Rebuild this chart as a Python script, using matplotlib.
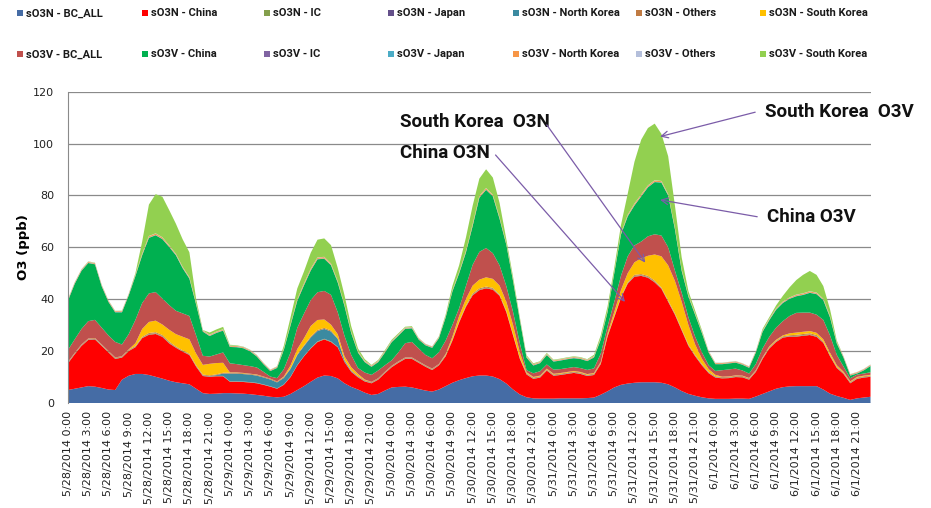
import numpy as np
import matplotlib.pyplot as plt
from matplotlib.patches import Rectangle

# categories: hourly time stamps, 5/28/2014 0:00 .. 6/1/2014 23:00
days = ['5/28/2014', '5/29/2014', '5/30/2014', '5/31/2014', '6/1/2014']
hour_labels = [f'{d} {h}:00' for d in days for h in range(24)]
hours = np.arange(len(hour_labels))

series_names = ['sO3N - BC_ALL', 'sO3N - China', 'sO3N - IC', 'sO3N - Japan',
                'sO3N - North Korea', 'sO3N - Others', 'sO3N - South Korea',
                'sO3V - BC_ALL', 'sO3V - China', 'sO3V - IC', 'sO3V - Japan',
                'sO3V - North Korea', 'sO3V - Others', 'sO3V - South Korea']
colors = ['#456ca5', '#ff0000', '#849f4c', '#64508a', '#3b8aa0', '#c07b43', '#ffc000',
          '#c0504d', '#00b050', '#8064a2', '#4bacc6', '#f79646', '#b4bfdb', '#92d050']

# ppb, one value per hour
o3n_bc_all = [5.0, 5.5, 6.0, 6.5, 6.3, 5.8, 5.2, 5.0, 9.0, 10.5, 11.2, 11.2, 10.8, 10.1, 9.4, 8.6, 8.0, 7.6, 7.2, 5.5, 3.8, 3.5, 3.6, 3.8,
              3.8, 3.7, 3.6, 3.4, 3.1, 2.8, 2.4, 2.2, 2.4, 3.5, 5.0, 6.5, 8.2, 9.8, 10.6, 10.4, 9.5, 7.6, 6.2, 5.2, 4.0, 3.1, 3.5, 4.8,
              6.0, 6.2, 6.3, 6.0, 5.4, 4.8, 4.4, 5.2, 6.5, 7.8, 8.8, 9.6, 10.3, 10.6, 10.6, 10.2, 9.2, 7.5, 5.2, 3.3, 2.2, 1.8, 1.7, 1.7,
              1.7, 1.8, 1.8, 1.8, 1.8, 1.9, 2.1, 3.2, 4.5, 6.0, 7.0, 7.5, 7.8, 8.0, 8.0, 8.0, 7.8, 7.2, 6.0, 4.6, 3.5, 2.8, 2.2, 1.8,
              1.6, 1.6, 1.6, 1.7, 1.7, 1.6, 2.5, 3.5, 4.5, 5.5, 6.1, 6.4, 6.5, 6.5, 6.5, 6.5, 5.2, 3.6, 2.7, 2.0, 1.2, 1.8, 2.1, 2.4]
o3n_china = [10.3, 13.3, 16.0, 17.8, 18.2, 16.2, 14.3, 12.0, 8.5, 9.5, 10.3, 13.8, 15.5, 16.5, 16.1, 14.4, 13.3, 12.2, 11.3, 8.5, 6.6, 6.6, 6.7, 6.5,
             4.4, 4.5, 4.5, 4.5, 4.5, 4.2, 3.9, 3.3, 4.6, 6.5, 9.5, 11.5, 12.8, 13.7, 13.9, 13.1, 12.0, 8.2, 5.8, 4.7, 4.3, 4.5, 5.5, 6.7,
             7.8, 9.3, 10.7, 11.0, 10.1, 9.2, 8.3, 9.3, 11.5, 16.2, 22.2, 27.4, 31.2, 32.9, 33.6, 33.5, 32.1, 27.5, 20.8, 13.7, 8.8, 7.5, 8.1, 10.8,
             8.8, 9.0, 9.4, 9.8, 9.4, 8.5, 8.7, 11.8, 21.0, 27.0, 33.5, 38.5, 40.9, 41.0, 40.3, 38.5, 36.2, 31.8, 28.0, 23.4, 18.5, 15.2, 12.3, 9.7,
             8.2, 7.9, 8.0, 8.3, 8.2, 7.4, 9.5, 13.5, 16.5, 18.0, 19.1, 19.2, 19.1, 19.4, 19.7, 19.0, 18.0, 14.4, 10.8, 9.2, 6.4, 7.5, 7.7, 7.7]
o3n_ic = [0.1, 0.1, 0.1, 0.1, 0.1, 0.1, 0.1, 0.1, 0.1, 0.1, 0.1, 0.1, 0.2, 0.2, 0.2, 0.2, 0.1, 0.1, 0.1, 0.1, 0.1, 0.1, 0.1, 0.1,
          0.1, 0.1, 0.1, 0.1, 0.1, 0.1, 0.1, 0.1, 0.1, 0.1, 0.1, 0.1, 0.2, 0.2, 0.2, 0.2, 0.1, 0.1, 0.1, 0.1, 0.1, 0.1, 0.1, 0.1,
          0.1, 0.1, 0.1, 0.1, 0.1, 0.1, 0.1, 0.1, 0.1, 0.1, 0.1, 0.1, 0.2, 0.2, 0.2, 0.2, 0.1, 0.1, 0.1, 0.1, 0.1, 0.1, 0.1, 0.1,
          0.1, 0.1, 0.1, 0.1, 0.1, 0.1, 0.1, 0.1, 0.1, 0.1, 0.1, 0.1, 0.2, 0.2, 0.2, 0.2, 0.1, 0.1, 0.1, 0.1, 0.1, 0.1, 0.1, 0.1,
          0.1, 0.1, 0.1, 0.1, 0.1, 0.1, 0.1, 0.1, 0.1, 0.1, 0.1, 0.1, 0.2, 0.2, 0.2, 0.2, 0.1, 0.1, 0.1, 0.1, 0.1, 0.1, 0.1, 0.1]
o3n_japan = [0.05, 0.05, 0.05, 0.05, 0.05, 0.05, 0.05, 0.05, 0.05, 0.05, 0.05, 0.05, 0.05, 0.05, 0.05, 0.05, 0.05, 0.05, 0.05, 0.05, 0.05, 0.05, 0.05, 0.05,
             0.05, 0.05, 0.05, 0.05, 0.05, 0.05, 0.05, 0.05, 0.05, 0.05, 0.05, 0.05, 0.05, 0.05, 0.05, 0.05, 0.05, 0.05, 0.05, 0.05, 0.05, 0.05, 0.05, 0.05,
             0.05, 0.05, 0.05, 0.05, 0.05, 0.05, 0.05, 0.05, 0.05, 0.05, 0.05, 0.05, 0.05, 0.05, 0.05, 0.05, 0.05, 0.05, 0.05, 0.05, 0.05, 0.05, 0.05, 0.05,
             0.05, 0.05, 0.05, 0.05, 0.05, 0.05, 0.05, 0.05, 0.05, 0.05, 0.05, 0.05, 0.05, 0.05, 0.05, 0.05, 0.05, 0.05, 0.05, 0.05, 0.05, 0.05, 0.05, 0.05,
             0.05, 0.05, 0.05, 0.05, 0.05, 0.05, 0.05, 0.05, 0.05, 0.05, 0.05, 0.05, 0.05, 0.05, 0.05, 0.05, 0.05, 0.05, 0.05, 0.05, 0.05, 0.05, 0.05, 0.05]
o3n_north_korea = [0.05, 0.05, 0.05, 0.05, 0.05, 0.05, 0.05, 0.05, 0.05, 0.05, 0.05, 0.05, 0.05, 0.05, 0.05, 0.05, 0.05, 0.05, 0.05, 0.05, 0.1, 0.1, 0.3, 0.9,
                   3.0, 3.0, 2.9, 2.9, 2.8, 2.7, 2.6, 2.3, 2.5, 3.0, 3.8, 3.8, 4.0, 4.0, 3.8, 3.8, 3.0, 0.5, 0.2, 0.1, 0.05, 0.05, 0.05, 0.05,
                   0.05, 0.05, 0.05, 0.05, 0.05, 0.05, 0.05, 0.05, 0.05, 0.05, 0.05, 0.05, 0.05, 0.05, 0.05, 0.05, 0.05, 0.05, 0.05, 0.05, 0.05, 0.05, 0.05, 0.05,
                   0.05, 0.05, 0.05, 0.05, 0.05, 0.05, 0.05, 0.05, 0.05, 0.05, 0.05, 0.05, 0.05, 0.05, 0.05, 0.05, 0.05, 0.05, 0.05, 0.05, 0.05, 0.05, 0.05, 0.05,
                   0.05, 0.05, 0.05, 0.05, 0.05, 0.05, 0.05, 0.05, 0.05, 0.05, 0.05, 0.05, 0.05, 0.05, 0.05, 0.05, 0.05, 0.05, 0.05, 0.05, 0.05, 0.05, 0.05, 0.05]
o3n_others = [0.3, 0.3, 0.3, 0.3, 0.3, 0.3, 0.3, 0.3, 0.3, 0.3, 0.3, 0.3, 0.4, 0.4, 0.4, 0.4, 0.3, 0.3, 0.3, 0.3, 0.3, 0.3, 0.3, 0.3,
              0.3, 0.3, 0.3, 0.3, 0.3, 0.3, 0.3, 0.3, 0.3, 0.3, 0.3, 0.3, 0.4, 0.4, 0.4, 0.4, 0.3, 0.3, 0.3, 0.3, 0.3, 0.3, 0.3, 0.3,
              0.3, 0.3, 0.3, 0.3, 0.3, 0.3, 0.3, 0.3, 0.3, 0.3, 0.3, 0.3, 0.4, 0.4, 0.4, 0.4, 0.3, 0.3, 0.3, 0.3, 0.3, 0.3, 0.3, 0.3,
              0.3, 0.3, 0.3, 0.3, 0.3, 0.3, 0.3, 0.3, 0.3, 0.3, 0.3, 0.3, 0.4, 0.4, 0.4, 0.4, 0.3, 0.3, 0.3, 0.3, 0.3, 0.3, 0.3, 0.3,
              0.3, 0.3, 0.3, 0.3, 0.3, 0.3, 0.3, 0.3, 0.3, 0.3, 0.3, 0.3, 0.4, 0.4, 0.4, 0.4, 0.3, 0.3, 0.3, 0.3, 0.3, 0.3, 0.3, 0.3]
o3n_south_korea = [0.05, 0.05, 0.05, 0.05, 0.05, 0.05, 0.05, 0.05, 0.05, 0.15, 1.05, 3.05, 4.25, 4.45, 4.05, 4.55, 4.75, 5.25, 5.55, 4.55, 3.75, 4.45, 4.35, 3.85,
                   0.15, 0.15, 0.15, 0.05, 0.15, 0.05, 0.05, 0.05, 0.25, 1.05, 2.05, 2.75, 4.05, 3.85, 3.25, 2.25, 1.55, 1.25, 1.15, 0.75, 0.25, 0.05, 0.05, 0.05,
                   0.05, 0.05, 0.05, 0.05, 0.05, 0.05, 0.05, 0.05, 0.35, 1.05, 2.05, 2.55, 3.05, 3.35, 3.55, 3.45, 3.45, 3.55, 3.55, 2.05, 0.35, 0.25, 0.25, 0.25,
                   0.25, 0.25, 0.25, 0.25, 0.25, 0.25, 0.25, 0.35, 0.85, 1.55, 2.55, 3.55, 4.85, 6.05, 7.75, 10.05, 12.05, 13.55, 12.55, 10.55, 7.55, 4.05, 2.05, 1.05,
                   0.55, 0.15, 0.15, 0.15, 0.15, 0.15, 0.15, 0.15, 0.35, 0.35, 0.35, 0.75, 0.85, 0.85, 0.85, 0.85, 0.85, 0.85, 0.55, 0.35, 0.25, 0.25, 0.25, 0.25]
o3v_bc_all = [4.6, 5.2, 6.0, 6.7, 7.0, 6.5, 6.0, 6.0, 4.5, 5.9, 9.0, 10.0, 11.0, 11.0, 10.0, 9.5, 9.0, 9.0, 9.0, 7.0, 3.5, 2.8, 3.3, 4.0,
              3.5, 3.2, 3.0, 2.9, 2.7, 1.8, 0.8, 1.3, 2.8, 5.0, 8.2, 9.5, 10.0, 10.7, 11.0, 11.5, 8.5, 7.9, 4.7, 2.3, 2.7, 2.7, 3.0, 2.5,
              2.1, 3.5, 5.5, 6.0, 5.0, 4.0, 4.0, 4.5, 5.2, 4.5, 3.0, 5.0, 8.0, 10.7, 11.3, 9.9, 7.8, 6.0, 5.0, 3.5, 0.8, 1.4, 1.7, 1.6,
              1.6, 1.5, 1.5, 1.5, 1.5, 1.6, 1.8, 3.2, 2.6, 4.0, 5.5, 6.5, 6.5, 6.5, 7.5, 7.8, 8.0, 7.0, 4.0, 3.5, 3.0, 3.0, 2.5, 1.5,
              1.5, 2.5, 2.7, 2.6, 2.0, 1.7, 2.4, 3.4, 3.7, 4.7, 5.5, 6.7, 7.6, 7.4, 7.1, 7.0, 7.5, 6.7, 4.0, 2.0, 1.2, 0.9, 0.8, 1.0]
o3v_china = [19.0, 21.4, 22.4, 22.4, 21.4, 15.9, 12.9, 11.4, 12.4, 14.9, 16.9, 18.4, 21.4, 21.9, 22.9, 22.4, 21.4, 17.4, 14.4, 11.9, 9.3, 7.9, 8.3, 8.4,
             6.3, 6.5, 6.5, 5.7, 4.2, 2.9, 2.1, 3.9, 7.4, 10.4, 10.4, 10.9, 11.4, 12.7, 12.4, 11.4, 11.4, 11.5, 8.4, 5.9, 4.0, 3.1, 3.2, 4.9,
             7.0, 6.4, 5.5, 5.2, 3.4, 3.7, 4.0, 5.4, 8.9, 12.9, 13.4, 12.9, 14.9, 20.9, 22.4, 21.9, 17.9, 15.9, 11.9, 8.9, 4.8, 3.0, 3.1, 3.6,
             3.1, 3.3, 3.4, 3.4, 3.5, 3.4, 4.2, 5.4, 5.5, 10.9, 15.9, 15.4, 15.4, 17.4, 18.9, 20.1, 20.4, 19.9, 15.9, 8.4, 7.9, 8.4, 7.4, 4.9,
             2.6, 2.3, 2.3, 2.3, 2.2, 2.2, 4.4, 6.4, 6.4, 6.9, 7.0, 6.6, 6.4, 6.8, 7.6, 7.9, 7.6, 6.9, 4.4, 3.4, 1.0, 0.4, 1.2, 2.4]
o3v_ic = [0.05, 0.05, 0.05, 0.05, 0.05, 0.05, 0.05, 0.05, 0.05, 0.05, 0.05, 0.05, 0.05, 0.05, 0.05, 0.05, 0.05, 0.05, 0.05, 0.05, 0.05, 0.05, 0.05, 0.05,
          0.05, 0.05, 0.05, 0.05, 0.05, 0.05, 0.05, 0.05, 0.05, 0.05, 0.05, 0.05, 0.05, 0.05, 0.05, 0.05, 0.05, 0.05, 0.05, 0.05, 0.05, 0.05, 0.05, 0.05,
          0.05, 0.05, 0.05, 0.05, 0.05, 0.05, 0.05, 0.05, 0.05, 0.05, 0.05, 0.05, 0.05, 0.05, 0.05, 0.05, 0.05, 0.05, 0.05, 0.05, 0.05, 0.05, 0.05, 0.05,
          0.05, 0.05, 0.05, 0.05, 0.05, 0.05, 0.05, 0.05, 0.05, 0.05, 0.05, 0.05, 0.05, 0.05, 0.05, 0.05, 0.05, 0.05, 0.05, 0.05, 0.05, 0.05, 0.05, 0.05,
          0.05, 0.05, 0.05, 0.05, 0.05, 0.05, 0.05, 0.05, 0.05, 0.05, 0.05, 0.05, 0.05, 0.05, 0.05, 0.05, 0.05, 0.05, 0.05, 0.05, 0.05, 0.05, 0.05, 0.05]
o3v_japan = [0.1, 0.1, 0.1, 0.1, 0.1, 0.1, 0.1, 0.1, 0.1, 0.1, 0.1, 0.1, 0.1, 0.1, 0.1, 0.1, 0.1, 0.1, 0.1, 0.1, 0.1, 0.1, 0.1, 0.1,
             0.1, 0.1, 0.1, 0.1, 0.1, 0.1, 0.1, 0.1, 0.1, 0.1, 0.1, 0.1, 0.1, 0.1, 0.1, 0.1, 0.1, 0.1, 0.1, 0.1, 0.1, 0.1, 0.1, 0.1,
             0.1, 0.1, 0.1, 0.1, 0.1, 0.1, 0.1, 0.1, 0.1, 0.1, 0.1, 0.1, 0.1, 0.1, 0.1, 0.1, 0.1, 0.1, 0.1, 0.1, 0.1, 0.1, 0.1, 0.1,
             0.1, 0.1, 0.1, 0.1, 0.1, 0.1, 0.1, 0.1, 0.1, 0.1, 0.1, 0.1, 0.1, 0.1, 0.1, 0.1, 0.1, 0.1, 0.1, 0.1, 0.1, 0.1, 0.1, 0.1,
             0.1, 0.1, 0.1, 0.1, 0.1, 0.1, 0.1, 0.1, 0.1, 0.1, 0.1, 0.1, 0.1, 0.1, 0.1, 0.1, 0.1, 0.1, 0.1, 0.1, 0.1, 0.1, 0.1, 0.1]
o3v_north_korea = [0.3, 0.3, 0.3, 0.3, 0.3, 0.3, 0.3, 0.3, 0.3, 0.3, 0.3, 0.4, 0.5, 0.5, 0.5, 0.4, 0.3, 0.3, 0.3, 0.3, 0.3, 0.3, 0.3, 0.3,
                   0.3, 0.3, 0.3, 0.3, 0.3, 0.3, 0.3, 0.3, 0.3, 0.3, 0.4, 0.5, 0.5, 0.5, 0.5, 0.4, 0.3, 0.3, 0.3, 0.3, 0.3, 0.3, 0.3, 0.3,
                   0.3, 0.3, 0.3, 0.3, 0.3, 0.3, 0.3, 0.3, 0.3, 0.3, 0.3, 0.4, 0.5, 0.5, 0.5, 0.4, 0.3, 0.3, 0.3, 0.3, 0.3, 0.3, 0.3, 0.3,
                   0.3, 0.3, 0.3, 0.3, 0.3, 0.3, 0.3, 0.3, 0.3, 0.3, 0.3, 0.4, 0.5, 0.5, 0.5, 0.5, 0.4, 0.3, 0.3, 0.3, 0.3, 0.3, 0.3, 0.3,
                   0.3, 0.3, 0.3, 0.3, 0.3, 0.3, 0.3, 0.3, 0.3, 0.3, 0.3, 0.3, 0.4, 0.4, 0.4, 0.4, 0.3, 0.3, 0.3, 0.3, 0.3, 0.3, 0.3, 0.3]
o3v_others = [0.1, 0.1, 0.1, 0.1, 0.1, 0.1, 0.1, 0.1, 0.1, 0.1, 0.1, 0.1, 0.1, 0.1, 0.1, 0.1, 0.1, 0.1, 0.1, 0.1, 0.1, 0.1, 0.1, 0.1,
              0.1, 0.1, 0.1, 0.1, 0.1, 0.1, 0.1, 0.1, 0.1, 0.1, 0.1, 0.1, 0.1, 0.1, 0.1, 0.1, 0.1, 0.1, 0.1, 0.1, 0.1, 0.1, 0.1, 0.1,
              0.1, 0.1, 0.1, 0.1, 0.1, 0.1, 0.1, 0.1, 0.1, 0.1, 0.1, 0.1, 0.1, 0.1, 0.1, 0.1, 0.1, 0.1, 0.1, 0.1, 0.1, 0.1, 0.1, 0.1,
              0.1, 0.1, 0.1, 0.1, 0.1, 0.1, 0.1, 0.1, 0.1, 0.1, 0.1, 0.1, 0.1, 0.1, 0.1, 0.1, 0.1, 0.1, 0.1, 0.1, 0.1, 0.1, 0.1, 0.1,
              0.1, 0.1, 0.1, 0.1, 0.1, 0.1, 0.1, 0.1, 0.1, 0.1, 0.1, 0.1, 0.1, 0.1, 0.1, 0.1, 0.1, 0.1, 0.1, 0.1, 0.1, 0.1, 0.1, 0.1]
o3v_south_korea = [0.1, 0.1, 0.1, 0.1, 0.1, 0.1, 0.1, 0.05, 0.1, 0.1, 0.6, 4.6, 12.1, 15.1, 15.6, 13.6, 11.6, 10.6, 9.6, 1.6, 0.1, 0.8, 0.8, 0.9,
                   0.3, 0.2, 0.1, 0.1, 0.1, 0.05, 0.05, 0.1, 1.1, 2.6, 4.1, 4.6, 6.1, 6.8, 7.1, 7.1, 5.1, 3.6, 2.1, 1.1, 0.6, 0.2, 0.3, 0.4,
                   0.4, 0.4, 0.3, 0.3, 0.1, 0.05, 0.05, 0.2, 0.6, 1.6, 2.6, 5.1, 7.1, 6.6, 7.2, 6.6, 5.6, 1.6, 1.1, 0.6, 0.4, 0.3, 0.2, 0.3,
                   0.2, 0.2, 0.2, 0.2, 0.2, 0.2, 0.5, 1.1, 1.6, 1.6, 3.1, 8.1, 16.1, 21.1, 22.1, 21.8, 18.1, 14.6, 8.6, 4.6, 1.6, 1.1, 0.6, 0.1,
                   0.05, 0.05, 0.05, 0.05, 0.05, 0.05, 0.1, 0.6, 0.6, 1.1, 2.2, 3.9, 5.6, 7.1, 7.8, 6.8, 4.9, 2.6, 0.6, 0.05, 0.05, 0.05, 0.05, 0.05]

series = [o3n_bc_all, o3n_china, o3n_ic, o3n_japan, o3n_north_korea, o3n_others, o3n_south_korea,
          o3v_bc_all, o3v_china, o3v_ic, o3v_japan, o3v_north_korea, o3v_others, o3v_south_korea]

W, H = 931, 508
fig, ax = plt.subplots(figsize=(W / 100, H / 100), dpi=100)
fig.subplots_adjust(left=68 / W, right=870.5 / W, bottom=1 - 403 / H, top=1 - 91.7 / H)

ax.stackplot(hours, *series, colors=colors, linewidth=0)

ax.set_xlim(hours[0], hours[-1])
ax.set_ylim(0, 120)
ax.set_yticks(range(0, 121, 20))
ax.set_xticks(hours[::3])
ax.set_xticklabels(hour_labels[::3], rotation=90, fontsize=8, color='#222222')
ax.tick_params(axis='x', length=0, pad=6)
ax.tick_params(axis='y', length=0, pad=10, labelsize=8, labelcolor='#222222')
ax.yaxis.grid(True, color='#8a8a8a', lw=0.9)
ax.set_axisbelow(True)
for s in ['top', 'right', 'bottom']:
    ax.spines[s].set_visible(False)
ax.spines['left'].set_color('#8a8a8a')

ax.set_ylabel('O3 (ppb)', fontsize=9.5, fontweight='bold')
ax.yaxis.set_label_coords(-38 / 802.5, 0.5)

# legend, two rows of seven, Excel style
leg_x = [17, 142, 264, 388, 513, 636, 760]
leg_y = [13.3, 54.3]
for i, (name, col) in enumerate(zip(series_names, colors)):
    row, c = divmod(i, 7)
    x, y = leg_x[c], leg_y[row]
    fig.add_artist(Rectangle((x / W, 1 - (y + 3) / H), 6 / W, 6 / H,
                             transform=fig.transFigure, color=col, lw=0))
    fig.text((x + 9) / W, 1 - y / H, name, va='center', ha='left',
             fontsize=8, family='Roboto', weight='bold', color='#1a1a1a')

# callouts
arrow_col = '#7b5ca8'
notes = [('South Korea  O3N', (49.3, 108.4), (71.0, 107.2), (85.6, 54.1)),
         ('China O3N', (49.3, 96.3), (63.4, 95.6), (82.6, 39.0)),
         ('South Korea  O3V', (103.3, 112.1), (101.9, 112.1), (87.8, 102.7)),
         ('China O3V', (103.7, 71.8), (102.2, 71.8), (87.8, 78.3))]
for txt, tpos, start, tip in notes:
    ax.text(tpos[0], tpos[1], txt, fontsize=13.5, family='Roboto', weight='bold',
            va='center', ha='left', color='#111111', clip_on=False)
    ax.annotate('', xy=tip, xytext=start, annotation_clip=False,
                arrowprops=dict(arrowstyle='->', color=arrow_col, lw=0.9,
                                shrinkA=0, shrinkB=0, mutation_scale=12))

fig.savefig('out.png', dpi=100)
